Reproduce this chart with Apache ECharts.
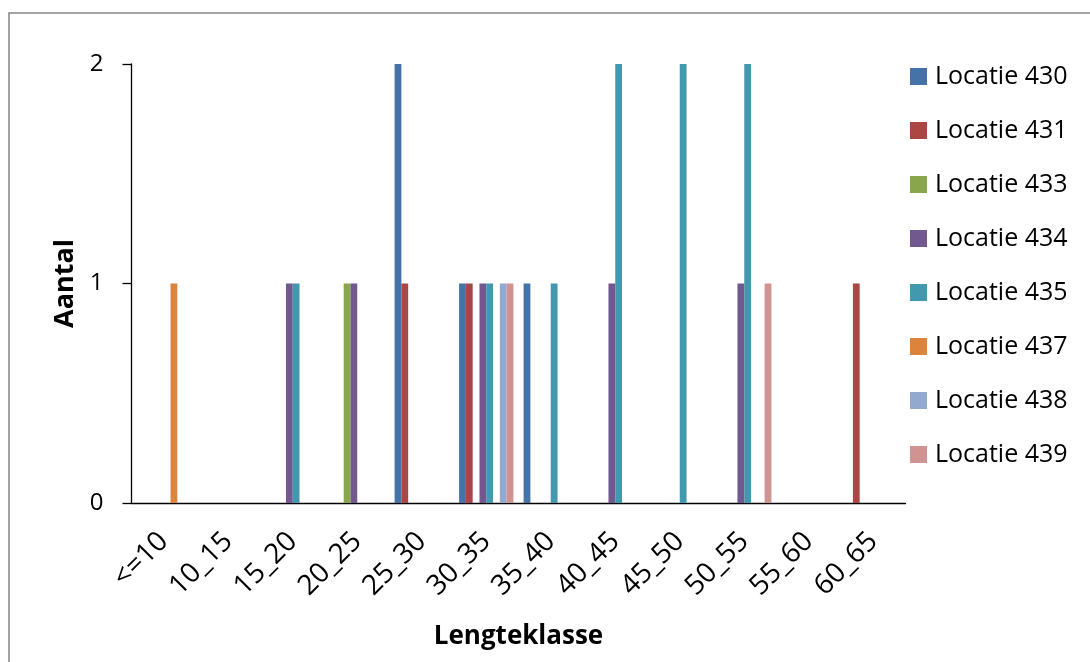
<!DOCTYPE html>
<html>
<head>
<meta charset="utf-8">
<script src="https://cdn.jsdelivr.net/npm/echarts@6/dist/echarts.min.js"></script>
<style>
  html, body { margin: 0; padding: 0; background: #fff; }
  #chart { width: 1090px; height: 662px; }
</style>
</head>
<body>
<div id="chart"></div>
<script>
// length classes on the x axis
const categories = ['<=10', '10_15', '15_20', '20_25', '25_30', '30_35', '35_40', '40_45', '45_50', '50_55', '55_60', '60_65'];

// counts per location, one value per length class
const loc430 = [0, 0, 0, 0, 2, 1, 1, 0, 0, 0, 0, 0];
const loc431 = [0, 0, 0, 0, 1, 1, 0, 0, 0, 0, 0, 1];
const loc433 = [0, 0, 0, 1, 0, 0, 0, 0, 0, 0, 0, 0];
const loc434 = [0, 0, 1, 1, 0, 1, 0, 1, 0, 1, 0, 0];
const loc435 = [0, 0, 1, 0, 0, 1, 1, 2, 2, 2, 0, 0];
const loc437 = [1, 0, 0, 0, 0, 0, 0, 0, 0, 0, 0, 0];
const loc438 = [0, 0, 0, 0, 0, 1, 0, 0, 0, 0, 0, 0];
const loc439 = [0, 0, 0, 0, 0, 1, 0, 0, 0, 1, 0, 0];

const seriesNames = ['Locatie 430', 'Locatie 431', 'Locatie 433', 'Locatie 434', 'Locatie 435', 'Locatie 437', 'Locatie 438', 'Locatie 439'];
const seriesData = [loc430, loc431, loc433, loc434, loc435, loc437, loc438, loc439];
const colors = ['#4572A7', '#AA4643', '#89A54E', '#71588F', '#4198AF', '#DB843D', '#93A9CF', '#D19392'];

const font = '"Open Sans", "Liberation Sans", sans-serif';

const chart = echarts.init(document.getElementById('chart'));

chart.setOption({
  animation: false,
  color: colors,
  textStyle: { fontFamily: font, color: '#000' },
  graphic: [{
    type: 'rect',
    shape: { x: 9, y: 13, width: 1100, height: 700 },
    style: { fill: 'none', stroke: '#878787', lineWidth: 1.5 },
    silent: true
  }],
  grid: { left: 131.5, right: 184.5, top: 64, bottom: 159 },
  legend: {
    orient: 'vertical',
    left: 910,
    top: 64,
    padding: 0,
    icon: 'rect',
    itemWidth: 17,
    itemHeight: 17,
    itemGap: 29,
    textStyle: { fontFamily: font, fontSize: 25, color: '#000', lineHeight: 22, padding: [0, 0, 0, 3] },
    data: seriesNames
  },
  xAxis: {
    type: 'category',
    data: categories,
    name: 'Lengteklasse',
    nameLocation: 'middle',
    nameGap: 121,
    nameTextStyle: { fontFamily: font, fontSize: 26, fontWeight: 'bold', color: '#000' },
    axisLine: { lineStyle: { color: '#000', width: 1.3 } },
    axisTick: { show: false },
    axisLabel: { rotate: 45, interval: 0, margin: 34, fontSize: 28, color: '#000' }
  },
  yAxis: {
    type: 'value',
    min: 0,
    max: 2,
    interval: 1,
    name: 'Aantal',
    nameLocation: 'middle',
    nameGap: 52,
    nameTextStyle: { fontFamily: font, fontSize: 27, fontWeight: 'bold', color: '#000' },
    axisLine: { show: true, lineStyle: { color: '#000', width: 1.3 } },
    axisTick: { show: true, inside: false, length: 9, lineStyle: { color: '#000', width: 1.3 } },
    splitLine: { show: false },
    axisLabel: { fontSize: 24, color: '#000', margin: 28 }
  },
  series: seriesNames.map((name, i) => ({
    name: name,
    type: 'bar',
    data: seriesData[i],
    barGap: '0%',
    barCategoryGap: '15.8%'
  }))
});
</script>
</body>
</html>
